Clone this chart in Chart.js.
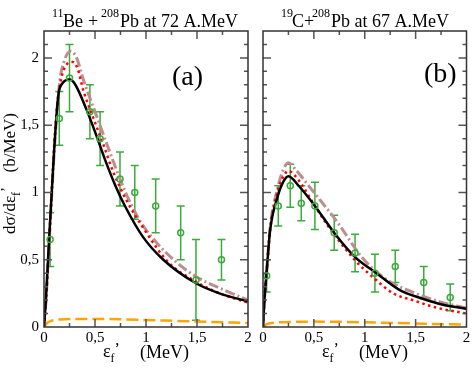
<!DOCTYPE html>
<html lang="en">
<head>
<meta charset="UTF-8">
<title>Coulomb breakup spectra</title>
<script src="https://cdn.jsdelivr.net/npm/chart.js@4"></script>
<style>
  body { margin: 0; background: #fff; }
  .wrap { position: relative; width: 472px; height: 368px; }
  canvas { position: absolute; left: 0; top: 0; }
</style>
</head>
<body>
<div class="wrap">
  <canvas id="chartA" width="472" height="368"></canvas>
  <canvas id="chartB" width="472" height="368"></canvas>
</div>
<script>
// axis ticks
const xTickVals = [0, 0.5, 1, 1.5, 2];
const xTickLabels = ['0', '0,5', '1', '1,5', '2'];
const xMinorVals = [0.25, 0.75, 1.25, 1.75];
const yTickVals = [0, 0.5, 1, 1.5, 2];
const yTickLabels = ['0', '0,5', '1', '1,5', '2'];
const yMinorVals = [0.1, 0.2, 0.3, 0.4, 0.6, 0.7, 0.8, 0.9, 1.1, 1.2, 1.3, 1.4, 1.6, 1.7, 1.8, 1.9, 2.1];

// panel (a): 11Be + 208Pb
const aBlackX = [0, 0.02, 0.05, 0.1, 0.14, 0.18, 0.25, 0.3, 0.42, 0.52, 0.6, 0.7, 0.8, 0.97, 1.17, 1.49, 1.72, 2.0];
const aBlackY = [0, 0.22, 0.65, 1.32, 1.72, 1.81, 1.84, 1.81, 1.61, 1.41, 1.24, 1.05, 0.89, 0.67, 0.50, 0.325, 0.25, 0.19];
const aRedX = [0, 0.02, 0.05, 0.1, 0.13, 0.17, 0.22, 0.28, 0.33, 0.385, 0.48, 0.58, 0.68, 0.81, 0.97, 1.22, 1.46, 1.69, 2.0];
const aRedY = [0, 0.2, 0.62, 1.35, 1.65, 1.85, 1.95, 1.97, 1.92, 1.76, 1.56, 1.36, 1.15, 0.94, 0.74, 0.48, 0.35, 0.26, 0.18];
const aBrownX = [0, 0.02, 0.05, 0.1, 0.15, 0.2, 0.26, 0.32, 0.385, 0.52, 0.65, 0.8, 0.94, 1.1, 1.3, 1.5, 1.72, 2.0];
const aBrownY = [0, 0.2, 0.62, 1.3, 1.8, 1.98, 2.05, 2.0, 1.84, 1.56, 1.29, 1.0, 0.79, 0.63, 0.48, 0.37, 0.29, 0.2];
const aOrangeX = [0, 0.03, 0.07, 0.12, 0.2, 0.35, 0.5, 0.8, 1.0, 1.3, 1.6, 2.0];
const aOrangeY = [0, 0.03, 0.045, 0.053, 0.058, 0.06, 0.06, 0.056, 0.052, 0.045, 0.038, 0.03];
const aExpX = [0.06, 0.15, 0.25, 0.45, 0.55, 0.745, 0.89, 1.095, 1.34, 1.49, 1.74];
const aExpY = [0.65, 1.55, 1.85, 1.60, 1.40, 1.10, 1.00, 0.90, 0.70, 0.35, 0.50];
const aExpErr = [0.2, 0.2, 0.25, 0.2, 0.2, 0.2, 0.2, 0.2, 0.2, 0.3, 0.15];

// panel (b): 19C + 208Pb
const bBlackX = [0, 0.01, 0.04, 0.07, 0.14, 0.2, 0.25, 0.35, 0.51, 0.71, 0.905, 1.115, 1.34, 1.57, 1.77, 2.0];
const bBlackY = [0, 0.15, 0.45, 0.72, 0.96, 1.08, 1.12, 1.05, 0.90, 0.69, 0.52, 0.40, 0.276, 0.21, 0.165, 0.135];
const bRedX = [0, 0.01, 0.04, 0.07, 0.14, 0.2, 0.25, 0.32, 0.38, 0.51, 0.64, 0.9, 1.08, 1.28, 1.47, 1.7, 2.0];
const bRedY = [0, 0.15, 0.45, 0.72, 1.0, 1.12, 1.16, 1.12, 1.06, 0.9, 0.75, 0.5, 0.37, 0.25, 0.2, 0.145, 0.1];
const bBrownX = [0, 0.01, 0.04, 0.07, 0.14, 0.2, 0.25, 0.32, 0.48, 0.74, 0.97, 1.2, 1.5, 1.75, 2.0];
const bBrownY = [0, 0.15, 0.45, 0.74, 1.02, 1.17, 1.22, 1.17, 1.02, 0.77, 0.52, 0.36, 0.25, 0.185, 0.14];
const bOrangeX = [0, 0.03, 0.07, 0.12, 0.2, 0.35, 0.5, 0.8, 1.0, 1.3, 1.6, 2.0];
const bOrangeY = [0, 0.018, 0.028, 0.033, 0.036, 0.039, 0.04, 0.038, 0.035, 0.03, 0.024, 0.018];
const bExpX = [0.036, 0.15, 0.268, 0.376, 0.51, 0.70, 0.905, 1.10, 1.30, 1.58, 1.84];
const bExpY = [0.38, 0.90, 1.05, 0.92, 0.90, 0.70, 0.55, 0.40, 0.45, 0.33, 0.22];
const bExpErr = [0.12, 0.15, 0.16, 0.13, 0.175, 0.13, 0.14, 0.14, 0.12, 0.12, 0.1];

const SERIF = '"Liberation Serif", "DejaVu Serif", serif';
const GREEN = '#3caa3c';

function pts(xs, ys) {
  return xs.map((v, i) => ({ x: v, y: ys[i] }));
}

// draws runs of text with sizes / vertical offsets; a part may pin its own x
function rich(ctx, x, y, parts) {
  parts.forEach(p => {
    if (p.x !== undefined) x = p.x;
    ctx.font = p.s + 'px ' + SERIF;
    ctx.fillText(p.t, x, y + (p.dy || 0));
    x += ctx.measureText(p.t).width;
  });
}

function makeDecor(p) {
  return {
    id: 'decor',
    beforeDatasetsDraw(chart) {
      const { ctx, scales: { x, y } } = chart;
      ctx.save();
      ctx.strokeStyle = GREEN;
      ctx.lineWidth = 1.5;
      p.expX.forEach((v, i) => {
        const px = x.getPixelForValue(v);
        const y1 = y.getPixelForValue(p.expY[i] + p.err[i]);
        const y2 = y.getPixelForValue(p.expY[i] - p.err[i]);
        ctx.beginPath();
        ctx.moveTo(px, y1); ctx.lineTo(px, y2);
        ctx.moveTo(px - 4, y1); ctx.lineTo(px + 4, y1);
        ctx.moveTo(px - 4, y2); ctx.lineTo(px + 4, y2);
        ctx.stroke();
      });
      ctx.restore();
    },
    afterDraw(chart) {
      const { ctx, chartArea: a, scales: { x, y } } = chart;
      ctx.save();
      // ticks on all four sides, pointing inward
      ctx.strokeStyle = '#555';
      ctx.lineWidth = 1.5;
      const tick = (vals, len) => {
        vals.forEach(v => {
          const px = x.getPixelForValue(v);
          ctx.beginPath();
          ctx.moveTo(px, a.bottom); ctx.lineTo(px, a.bottom - len);
          ctx.moveTo(px, a.top); ctx.lineTo(px, a.top + len);
          ctx.stroke();
        });
      };
      const tickY = (vals, len) => {
        vals.forEach(v => {
          const py = y.getPixelForValue(v);
          ctx.beginPath();
          ctx.moveTo(a.left, py); ctx.lineTo(a.left + len, py);
          ctx.moveTo(a.right, py); ctx.lineTo(a.right - len, py);
          ctx.stroke();
        });
      };
      tick(xTickVals.slice(1, -1), 8);
      tick(xMinorVals, 4);
      tickY(yTickVals.slice(1), 8);
      tickY(yMinorVals, 4);
      ctx.strokeStyle = '#333';
      ctx.strokeRect(a.left, a.top, a.right - a.left, a.bottom - a.top);

      ctx.fillStyle = '#000';
      ctx.textAlign = 'left';
      ctx.textBaseline = 'alphabetic';
      // title with isotope superscripts
      rich(ctx, 0, 27, p.title);
      // panel tag
      ctx.font = '28px ' + SERIF;
      ctx.fillText(p.tag, p.tagX, p.tagY);
      // x axis title
      rich(ctx, a.left + 59, 357, [
        { t: 'ε', s: 18 }, { t: 'f', s: 12, dy: 5 }, { t: '’', s: 16, dy: -3 }
      ]);
      ctx.font = '18px ' + SERIF;
      ctx.fillText('(MeV)', a.left + 96, 358);
      // y axis title (left panel only)
      if (p.yTitle) {
        ctx.save();
        ctx.translate(15, 234);
        ctx.rotate(-Math.PI / 2);
        rich(ctx, 0, 0, [
          { t: 'dσ/dε', s: 17 }, { t: 'f', s: 12, dy: 5 }, { t: '’', s: 15, dy: -4 }
        ]);
        ctx.font = '17px ' + SERIF;
        ctx.textAlign = 'right';
        ctx.fillText('(b/MeV)', 234 - 113, 0);
        ctx.restore();
      }
      ctx.restore();
    }
  };
}

function build(id, p) {
  const line = (xs, ys, color, width, dash) => ({
    type: 'line',
    data: pts(xs, ys),
    borderColor: color,
    borderWidth: width,
    borderDash: dash,
    pointRadius: 0,
    fill: false,
    cubicInterpolationMode: 'monotone'
  });
  new Chart(document.getElementById(id), {
    type: 'line',
    data: {
      datasets: [
        {
          type: 'scatter',
          data: pts(p.expX, p.expY),
          pointStyle: 'circle',
          pointRadius: 3,
          pointBorderWidth: 1.5,
          pointBorderColor: GREEN,
          pointBackgroundColor: 'rgba(0,0,0,0)',
          showLine: false
        },
        line(p.blackX, p.blackY, '#000', 2.5, []),
        line(p.redX, p.redY, '#ff0000', 2.5, [2.5, 3.5]),
        line(p.brownX, p.brownY, '#bc8f8f', 3, [10, 3, 2, 3]),
        line(p.orangeX, p.orangeY, '#ffa500', 2.5, [12, 5])
      ]
    },
    options: {
      responsive: false,
      animation: false,
      layout: { padding: p.pad },
      plugins: { legend: { display: false }, tooltip: { enabled: false } },
      scales: {
        x: {
          type: 'linear', min: 0, max: 2,
          grid: { display: false, drawTicks: false },
          border: { display: false },
          afterBuildTicks: s => { s.ticks = xTickVals.map(v => ({ value: v })); },
          ticks: {
            autoSkip: false, maxRotation: 0, padding: 2, color: '#000',
            font: { family: SERIF, size: 15 },
            callback: v => xTickLabels[xTickVals.indexOf(v)]
          },
          afterFit: s => {
            s.height = 41;
            s.paddingLeft = s.paddingRight = s.paddingTop = s.paddingBottom = 0;
          }
        },
        y: {
          type: 'linear', min: 0, max: 2.2,
          grid: { display: false, drawTicks: false },
          border: { display: false },
          afterBuildTicks: s => { s.ticks = yTickVals.map(v => ({ value: v })); },
          ticks: {
            display: p.yLabels, padding: 5, color: '#000',
            font: { family: SERIF, size: 15 },
            callback: v => yTickLabels[yTickVals.indexOf(v)]
          },
          afterFit: s => {
            s.width = p.yWidth;
            s.paddingLeft = s.paddingRight = s.paddingTop = s.paddingBottom = 0;
          }
        }
      }
    },
    plugins: [makeDecor(p)]
  });
}

build('chartA', {
  blackX: aBlackX, blackY: aBlackY, redX: aRedX, redY: aRedY,
  brownX: aBrownX, brownY: aBrownY, orangeX: aOrangeX, orangeY: aOrangeY,
  expX: aExpX, expY: aExpY, err: aExpErr,
  pad: { left: 0, top: 31, right: 224, bottom: 0 }, yWidth: 44, yLabels: true, yTitle: true,
  title: [
    { t: '11', s: 12, dy: -10, x: 52 }, { t: 'Be', s: 18, x: 63 }, { t: '+', s: 18, x: 88 },
    { t: '208', s: 12, dy: -10, x: 101 }, { t: 'Pb at 72 A.MeV', s: 18, x: 120 }
  ],
  tag: '(a)', tagX: 172, tagY: 85
});

build('chartB', {
  blackX: bBlackX, blackY: bBlackY, redX: bRedX, redY: bRedY,
  brownX: bBrownX, brownY: bBrownY, orangeX: bOrangeX, orangeY: bOrangeY,
  expX: bExpX, expY: bExpY, err: bExpErr,
  pad: { left: 263, top: 31, right: 5, bottom: 0 }, yWidth: 0, yLabels: false, yTitle: false,
  title: [
    { t: '19', s: 12, dy: -10, x: 281 }, { t: 'C+', s: 18, x: 292 },
    { t: '208', s: 12, dy: -10, x: 312 }, { t: 'Pb at 67 A.MeV', s: 18, x: 331 }
  ],
  tag: '(b)', tagX: 424, tagY: 82
});
</script>
</body>
</html>
